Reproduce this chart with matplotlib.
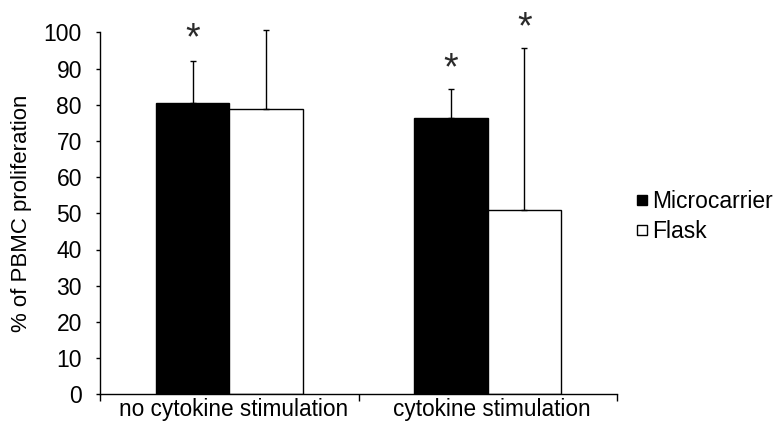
import matplotlib
matplotlib.use("Agg")
import matplotlib.pyplot as plt
import numpy as np

plt.rcParams['font.family'] = ['Liberation Sans', 'DejaVu Sans']

categories = ["no cytokine stimulation", "cytokine stimulation"]
microcarrier = [80.5, 76.3]
microcarrier_err = [11.5, 8.1]
flask = [78.8, 50.8]
flask_err = [21.8, 45.0]
# significance marks: (category index, series, height)
stars = [(0, "Microcarrier", 98.0), (1, "Microcarrier", 89.8), (1, "Flask", 101.2)]

fig = plt.figure(figsize=(7.79, 4.21), dpi=100)
ax = fig.add_axes([100 / 779, 1 - 394.3 / 421, (617 - 100) / 779, (394.3 - 32.3) / 421])

x = np.arange(len(categories)) + 0.5
w = 0.284
ax.bar(x - w / 2, microcarrier, w, color="black", edgecolor="black", linewidth=1, label="Microcarrier", zorder=2)
ax.bar(x + w / 2, flask, w, color="white", edgecolor="black", linewidth=1, label="Flask", zorder=2)
for vals, errs, xs in [(microcarrier, microcarrier_err, x - w / 2), (flask, flask_err, x + w / 2)]:
    eb = ax.errorbar(xs, vals, yerr=[np.zeros(2), errs], fmt="none",
                     ecolor="black", elinewidth=1, capsize=2.5, capthick=1, zorder=3)
    for art in eb.lines[1] + eb.lines[2]:
        art.set_clip_on(False)

for i, series, h in stars:
    xs = x[i] - w / 2 if series == "Microcarrier" else x[i] + w / 2
    ax.text(xs, h, "*", ha="center", va="center", fontsize=27, color="#2a2a2a", clip_on=False)

ax.set_xlim(0, 2)
ax.set_ylim(0, 100)
ax.set_yticks(np.arange(0, 101, 10))
ax.tick_params(axis="y", labelsize=16.5, length=3, width=1, direction="out", pad=10)
ax.set_xticks([0, 1, 2])
ax.set_xticklabels([])
ax.set_xticks(x + 0.016, minor=True)
ax.set_xticklabels(categories, minor=True, fontsize=16.3)
ax.tick_params(axis="x", which="major", length=5, width=1, direction="out")
ax.tick_params(axis="x", which="minor", length=0, pad=3)
for s in ["top", "right"]:
    ax.spines[s].set_visible(False)
for s in ["left", "bottom"]:
    ax.spines[s].set_linewidth(1)
ax.set_ylabel("% of PBMC proliferation", fontsize=16)
ax.yaxis.set_label_coords(-68 / 517, 0.5)

ax.legend(loc="center left", bbox_to_anchor=(1.02, 0.49), frameon=False, fontsize=16.5,
          handlelength=0.44, handleheight=0.3, handletextpad=0.26, labelspacing=0.3,
          borderaxespad=0.0)

fig.savefig("out.png", dpi=100)
